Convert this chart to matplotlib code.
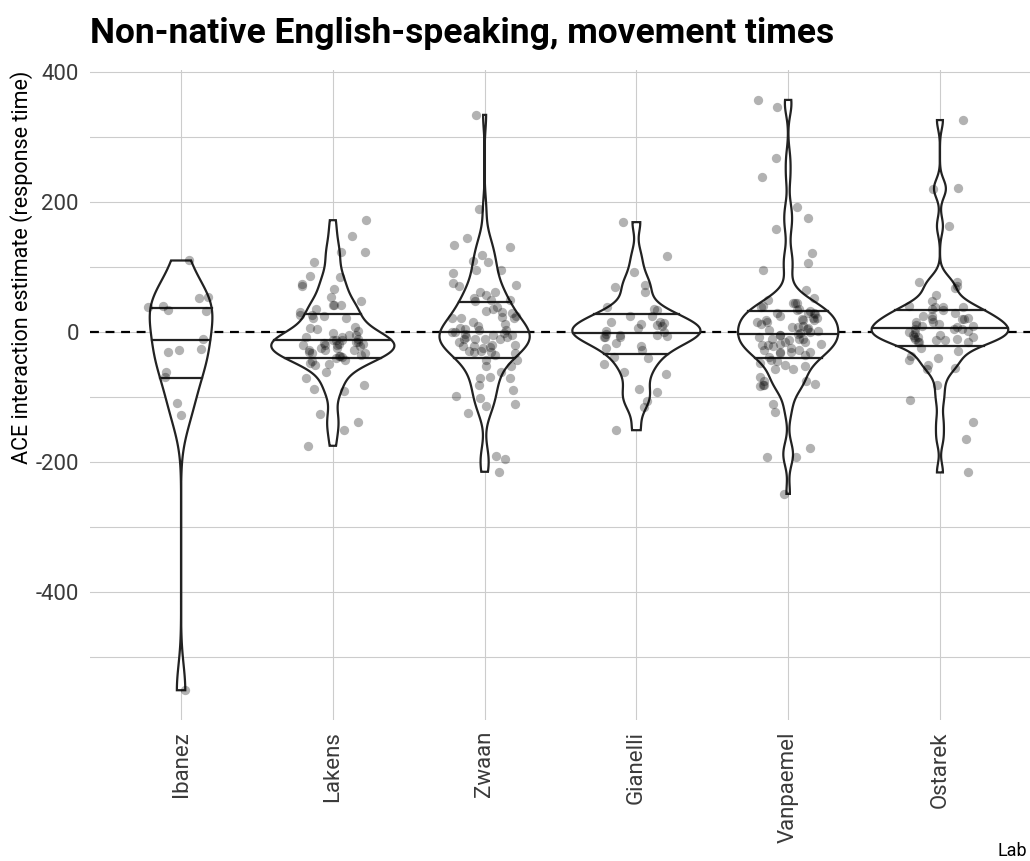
import matplotlib
matplotlib.use("Agg")
import matplotlib.pyplot as plt
import numpy as np

# werte (überlappende punkte in der mitte geschätzt)
labs = ["Ibanez", "Lakens", "Zwaan", "Gianelli", "Vanpaemel", "Ostarek"]

ibanez = [110, 54, 52, 40, 34, 33, 38, -11, -26, -27, -31, -61, -69, -109, -127, -551]
lakens = [172, 148, 123, 123, 107, 86, 84, 74, 70, 66, 54, 48, 41, 41, 41, 35, 31, 26,
          21, 21, 24, 26, 8, 6, 4, 2, -1, -5, -7, -5, -8, -12, -12, -15, -17, -18, -20,
          -20, -25, -30, -28, -28, -33, -37, -37, -38, -43, -48, -49, -51, -62, -70,
          -82, -88, -90, -126, -138, -151, -175,
          -15, -18, -22, -25, -28, -32, -35, -40, -45, -10, -13, -20]
zwaan = [334, 189, 145, 134, 131, 118, 108, 109, 95, 90, 96, 76, 70, 72, 61, 61, 57, 49,
         53, 50, 39, 47, 33, 31, 30, 21, 21, 21, 23, 12, 6, 3, 3, 0, -5, -2, -10, -10,
         -8, -11, -10, -22, -22, -20, -23, -30, -29, -32, -29, -43, -43, -53, -52, -61,
         -69, -71, -70, -82, -89, -98, -102, -114, -110, -125, -196, -191, -215,
         35, 25, 15, 10, 5, 0, -3, -5, -8, -15, -20, -25, -30, -35]
gianelli = [169, 117, 92, 73, 62, 69, 39, 25, 35, 34, 24, 16, 14, 11, 10, 6, 0, -3, -8,
            -7, -5, -7, -17, -22, -25, -28, -38, -40, -49, -61, -65, -88, -93, -106,
            -115, -151, 12, 2, -4, -6, 15]
vanpaemel = [357, 346, 267, 238, 192, 175, 159, 121, 106, 95, 64, 52, 50, 44, 44, 44, 39,
             35, 34, 33, 30, 29, 18, 21, 18, 18, 16, 7, 3, 8, 2, -5, -10, -15, -10, -20,
             -18, -27, -28, -30, -33, -30, -30, -38, -43, -44, -51, -48, -52, -57, -57,
             -69, -75, -76, -82, -82, -83, -80, -110, -123, -179, -192, -192, -249,
             30, 25, 20, 12, 10, 5, 0, -2, -5, -8, -12, -15, -20, -22, -25, -35, 28, 40,
             15, 6, -3, -10, -18, 22]
ostarek = [326, 221, 220, 163, 77, 77, 71, 67, 57, 47, 39, 40, 39, 39, 35, 34, 29, 25, 20,
           21, 20, 16, 8, 9, 11, 4, 4, 2, -2, -5, -8, -7, -7, -12, -12, -11, -16, -16,
           -24, -29, -37, -40, -43, -51, -57, -56, -82, -104, -138, -164, -216,
           25, 15, 10, 5, 0, -5, -10, -15, 20, 12]

groups = [ibanez, lakens, zwaan, gianelli, vanpaemel, ostarek]

plt.rcParams['font.family'] = ['Roboto', 'DejaVu Sans']


def kde(vals):
    # wie ggplot: bw.nrd0, 512 punkte, auf datenbereich beschnitten
    v = np.asarray(vals, dtype=float)
    n = len(v)
    iqr = np.subtract(*np.percentile(v, [75, 25]))
    bw = 0.9 * min(np.std(v, ddof=1), iqr / 1.34) * n ** -0.2
    ys = np.linspace(v.min(), v.max(), 512)
    d = np.exp(-0.5 * ((ys[:, None] - v[None, :]) / bw) ** 2).sum(axis=1)
    d = d / (n * bw * np.sqrt(2 * np.pi))
    return ys, d


dens = [kde(g) for g in groups]
dmax = max(d.max() for _, d in dens)

fig = plt.figure(figsize=(10.3, 8.61), dpi=100)
ax = fig.add_axes([90 / 1030, 1 - 720 / 861, 941 / 1030, (720 - 70.4) / 861])

ax.axhline(0, color="black", linestyle=(0, (4, 3)), linewidth=1.6, zorder=1)

rng = np.random.default_rng(7)
for i, (g, (ys, d)) in enumerate(zip(groups, dens)):
    x0 = i + 1
    w = 0.45 * d / dmax
    xs = np.concatenate([x0 - w, (x0 + w)[::-1]])
    yy = np.concatenate([ys, ys[::-1]])
    ax.fill(xs, yy, facecolor="white", edgecolor="#222222", linewidth=1.6, zorder=2)
    # quantile aus der dichte
    cdf = np.cumsum(d) / d.sum()
    for q in [0.25, 0.5, 0.75]:
        yq = np.interp(q, cdf, ys)
        wq = np.interp(yq, ys, w)
        ax.plot([x0 - wq, x0 + wq], [yq, yq], color="#222222", linewidth=1.6, zorder=3)
    jit = rng.uniform(-0.22, 0.22, len(g))
    ax.scatter(x0 + jit, g, s=45, color="black", alpha=0.3, linewidths=0, zorder=4)

ax.set_xlim(0.4, 6.6)
ax.set_ylim(-596.8, 402.4)
ax.set_xticks(range(1, 7))
ax.set_xticklabels(labs, rotation=90, fontsize=16, color="#3a3a3a")
ax.set_yticks([-400, -200, 0, 200, 400])
ax.set_yticks([-500, -300, -100, 100, 300], minor=True)
ax.set_yticklabels(["-400", "-200", "0", "200", "400"], fontsize=16, color="#3a3a3a")
ax.tick_params(axis="both", which="both", length=0, pad=8)
ax.grid(True, which="major", color="#cccccc", linewidth=0.8)
ax.grid(True, which="minor", axis="y", color="#cccccc", linewidth=0.8)
ax.set_axisbelow(True)
for s in ax.spines.values():
    s.set_visible(False)

ax.set_ylabel("ACE interaction estimate (response time)", fontsize=15.5, loc="top", labelpad=2)
# x-titel unten rechts wie bei theme_ipsum
fig.text(1027 / 1030, 1 - 856 / 861, "Lab", fontsize=13, ha="right", va="baseline")
fig.text(90 / 1030, 1 - 43 / 861, "Non-native English-speaking, movement times",
         fontsize=25.5, fontweight="bold", va="baseline", ha="left")

fig.savefig("out.png", dpi=100)
